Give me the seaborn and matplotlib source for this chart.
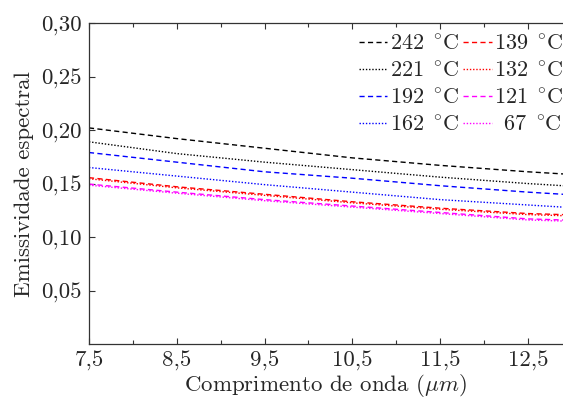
import pandas as pd
import matplotlib
matplotlib.use("Agg")
import matplotlib.pyplot as plt
import seaborn as sns
from matplotlib.ticker import FuncFormatter, MultipleLocator

# wavelength (um) and spectral emissivity
wavelength = [7.5, 8.5, 9.5, 10.5, 11.5, 12.5, 12.9]
e_242 = [0.202, 0.192, 0.183, 0.174, 0.167, 0.161, 0.159]
e_221 = [0.189, 0.178, 0.170, 0.163, 0.156, 0.150, 0.148]
e_192 = [0.179, 0.170, 0.161, 0.155, 0.148, 0.142, 0.140]
e_162 = [0.165, 0.157, 0.149, 0.142, 0.135, 0.130, 0.128]
e_139 = [0.1555, 0.147, 0.140, 0.133, 0.127, 0.122, 0.121]
e_132 = [0.1545, 0.146, 0.139, 0.132, 0.126, 0.121, 0.120]
e_121 = [0.1495, 0.142, 0.135, 0.129, 0.123, 0.117, 0.116]
e_67 = [0.1485, 0.141, 0.134, 0.128, 0.122, 0.116, 0.115]

temps = ["242", "221", "192", "162", "139", "132", "121", "67"]
values = [e_242, e_221, e_192, e_162, e_139, e_132, e_121, e_67]
colors = ["black", "black", "blue", "blue", "red", "red", "magenta", "magenta"]
styles = ["dash", "dot", "dash", "dot", "dash", "dot", "dash", "dot"]
dash_map = {"dash": (3.7, 2.4), "dot": (1, 1.3)}

sns.set_style("ticks")
plt.rcParams["font.family"] = "serif"
plt.rcParams["font.serif"] = ["cmr10"]
plt.rcParams["mathtext.fontset"] = "cm"
plt.rcParams["axes.formatter.use_mathtext"] = True
plt.rcParams["axes.unicode_minus"] = False

fs = 16.5
fig = plt.figure(figsize=(5.63, 4.03), dpi=100)
ax = fig.add_axes([0.158, 0.146, 0.842, 0.797])

for t, v, c, s in zip(temps, values, colors, styles):
    df = pd.DataFrame({"x": wavelength, "y": v})
    pad = r"\enspace" if len(t) == 2 else ""
    label = rf"${pad}\mathrm{{{t}}}\ {{}}^\circ\!\mathrm{{C}}$"
    line = sns.lineplot(data=df, x="x", y="y", ax=ax, color=c, lw=1.0, label=label)
    line.lines[-1].set_dashes(dash_map[s])

ax.set_xlim(7.5, 12.9)
ax.set_ylim(0, 0.30)
ax.xaxis.set_minor_locator(MultipleLocator(0.5))
ax.set_xticks([7.5, 8.5, 9.5, 10.5, 11.5, 12.5])
ax.set_yticks([0.05, 0.10, 0.15, 0.20, 0.25, 0.30])
ax.xaxis.set_major_formatter(FuncFormatter(lambda v, p: f"{v:.1f}".replace(".", ",")))
ax.yaxis.set_major_formatter(FuncFormatter(lambda v, p: f"{v:.2f}".replace(".", ",")))
ax.tick_params(axis="both", which="both", direction="in", top=True, right=False,
               labelsize=fs, length=4, width=0.8, color="#333333", pad=5)
ax.tick_params(axis="x", which="minor", length=3)
for sp in ["left", "bottom", "top"]:
    ax.spines[sp].set_linewidth(0.9)
    ax.spines[sp].set_color("#333333")
ax.spines["right"].set_visible(False)

ax.set_xlabel(r"Comprimento de onda ($\mu m$)", fontsize=fs, labelpad=1)
ax.set_ylabel("Emissividade espectral", fontsize=fs, labelpad=5)

ax.legend(ncol=2, loc="upper right", frameon=False, fontsize=16,
          handlelength=1.3, handletextpad=0.1, columnspacing=0.2,
          labelspacing=0.34, borderpad=0.1, borderaxespad=0.0,
          bbox_to_anchor=(1.005, 0.972))

fig.savefig("out.png", dpi=100)
